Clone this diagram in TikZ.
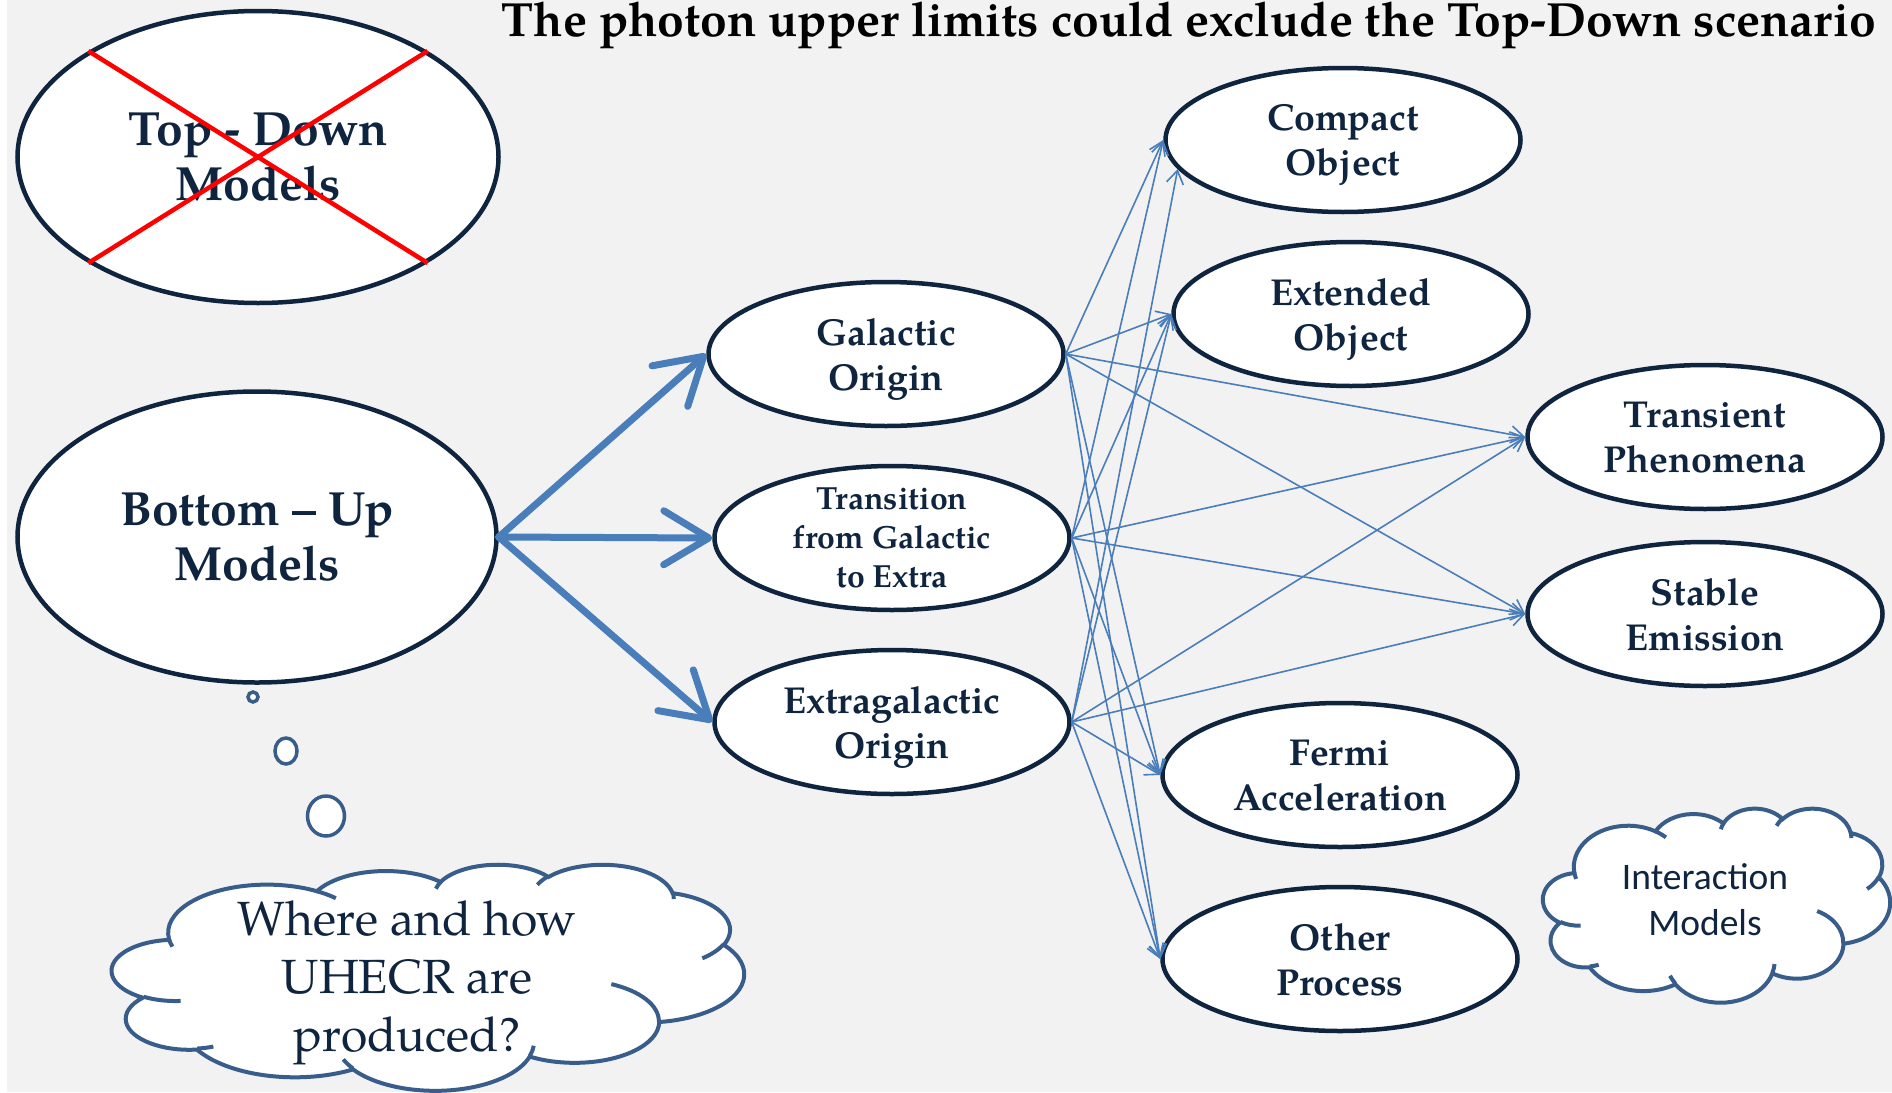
\documentclass[tikz,border=0pt]{standalone}
\usepackage{fontspec}
\setmainfont{texgyrepagella}[Extension=.otf, UprightFont=*-regular, BoldFont=*-bold, ItalicFont=*-italic, BoldItalicFont=*-bolditalic]
\newfontfamily\calibrifont{Carlito}
\usetikzlibrary{shapes.geometric,arrows.meta}

\definecolor{navy}{HTML}{0F243E}
\definecolor{linkblue}{HTML}{4A7EBB}
\definecolor{cloudblue}{HTML}{385D8A}
\definecolor{paper}{HTML}{F2F2F2}

% ---- cloud outline built from elliptic puffs (design grid 43.2 x 43.2) ----
\newcommand\cu{1}
\newcommand\cv{1}
\tikzset{
  % puff arc: x-radius, y-radius (grid units x1000), start angle, sweep
  % (y pointing down, angles measured as seen from the centre) -> TikZ arc
  oo/.code n args={4}{%
    \pgfmathsetmacro\ooA{atan2((#1)/1000*sin(#3),(#2)/1000*cos(#3))}%
    \pgfmathsetmacro\ooB{atan2((#1)/1000*sin((#3)+(#4)),(#2)/1000*cos((#3)+(#4)))}%
    \pgfmathsetmacro\ooD{\ooB-\ooA}%
    \pgfmathsetmacro\ooD{\ooD+360*round(((#4)-\ooD)/360)}%
    \pgfmathsetmacro\ooS{0-(\ooA)}%
    \pgfmathsetmacro\ooN{0-(\ooD)}%
    \pgfmathsetmacro\ooX{(#1)/1000*\cu}%
    \pgfmathsetmacro\ooY{(#2)/1000*\cv}%
    \edef\oonext{\noexpand\pgfkeysalso{start angle=\ooS, delta angle=\ooN,
      x radius=\ooX pt, y radius=\ooY pt}}%
    \oonext
  }
}
% #1 style, #2 #3 top-left corner, #4 width, #5 height
\newcommand\cloudshape[5]{%
  \pgfmathsetmacro\cu{#4/43.2}\pgfmathsetmacro\cv{#5/43.2}%
  \begin{scope}[shift={(#2,#3)}]
    \draw[#1, fill=white] ({3.9*\cu},{14.37*\cv})
      arc[oo={6753}{9190}{-190.487483}{123.780533}]
      arc[oo={5333}{7267}{-144.102383}{89.945233}]
      arc[oo={4365}{5945}{-145.807917}{99.723017}]
      arc[oo={4857}{6595}{-130.986067}{117.241733}]
      arc[oo={5333}{7273}{-78.708883}{109.026917}]
      arc[oo={6775}{9220}{-46.26725}{130.269}]
      arc[oo={5785}{7867}{0.625017}{114.033333}]
      arc[oo={6752}{9215}{22.4516}{115.17255}]
      arc[oo={7720}{10543}{66.242633}{75.711017}]
      arc[oo={4360}{5918}{-274.942083}{146.735567}]
      arc[oo={4345}{5945}{-246.8285}{152.51885}]
      -- cycle;
    \draw[#1]
      ({4.693*\cu},{26.177*\cv}) arc[oo={4345}{5945}{86.742}{26.4295}]
      ({6.928*\cu},{34.899*\cv}) arc[oo={4360}{5918}{73.610467}{11.447467}]
      ({16.478*\cu},{39.09*\cv}) arc[oo={6752}{9215}{137.62415}{14.0811}]
      ({28.827*\cu},{34.751*\cv}) arc[oo={6752}{9215}{6.453267}{15.99835}]
      ({34.129*\cu},{22.954*\cv}) arc[oo={5785}{7867}{-70.29235}{70.917367}]
      ({41.798*\cu},{15.354*\cv}) arc[oo={5333}{7273}{30.318033}{27.7515}]
      ({38.324*\cu},{5.426*\cv}) arc[oo={4857}{6595}{-13.744333}{14.8589}]
      ({29.078*\cu},{3.952*\cv}) arc[oo={4857}{6595}{-149.18145}{18.195367}]
      ({22.141*\cu},{4.72*\cv}) arc[oo={4365}{5945}{-163.494267}{17.68635}]
      ({14.0*\cu},{5.192*\cv}) arc[oo={6753}{9190}{-66.70695}{12.31935}]
      ({4.127*\cu},{15.789*\cv}) arc[oo={6753}{9190}{157.65435}{11.858167}];
  \end{scope}%
}

\begin{document}
\begin{tikzpicture}[x=1pt, y=-1pt,
  oval/.style={ellipse, draw=navy, line width=4.5pt, fill=white, text=navy,
    align=center, inner sep=0pt, text depth=0pt},
  bigoval/.style={oval, minimum width=481pt, minimum height=292pt,
    font=\fontsize{48}{55}\selectfont\bfseries},
  midoval/.style={oval, minimum width=355pt, minimum height=144pt,
    font=\fontsize{37.5}{45}\selectfont\bfseries},
  link/.style={draw=linkblue, line width=1.6pt,
    -{Straight Barb[length=13pt, width=17pt]}},
  bigarrow/.style={draw=linkblue, line width=7pt, line cap=round,
    -{Straight Barb[length=45pt, width=54pt, round]}},
  cloudline/.style={draw=cloudblue, line width=4pt},
  bubble/.style={ellipse, draw=cloudblue, fill=white, line width=3.5pt, inner sep=0pt},
  redx/.style={draw=red, line width=4.5pt},
  titletext/.style={anchor=base, text=black, inner sep=0pt,
    font=\fontsize{48}{55}\selectfont\bfseries},
]
\useasboundingbox (0,0) rectangle (1892,1092);
\fill[white] (0,0) rectangle (1892,1092);
\fill[paper] (7,0) rectangle (1892,1092);

% heading
\node[titletext] (ttl) at (1189,36) {The photon upper limits could exclude the Top-Down scenario};

% model families
\node[bigoval] (td) at (258,157) {Top - Down\\Models};
\draw[redx] (td.148) -- (td.-32) (td.212) -- (td.32);
\node[bigoval, minimum width=479pt, minimum height=291pt] (bu) at (257,537) {Bottom -- Up\\Models};

% origin of the sources
\node[midoval] (gal) at (886,354) {Galactic\\Origin};
\node[midoval, font=\fontsize{32}{39}\selectfont\bfseries] (tra) at (892,538) {Transition\\from Galactic\\to Extra};
\node[midoval] (exg) at (892,722) {Extragalactic\\Origin};

% source classes and mechanisms
\node[midoval] (cmp) at (1343,140) {Compact\\Object};
\node[midoval] (ext) at (1351,314) {Extended\\Object};
\node[midoval] (trn) at (1705,437) {Transient\\Phenomena};
\node[midoval] (stb) at (1705,614) {Stable\\Emission};
\node[midoval] (frm) at (1340,775) {Fermi\\Acceleration};
\node[midoval] (oth) at (1340,959) {Other\\Process};

% bottom-up branches
\draw[bigarrow] (bu.east) -- (gal.west);
\draw[bigarrow] (bu.east) -- (tra.west);
\draw[bigarrow] (bu.east) -- (exg.west);

% every origin linked to every class
\foreach \src in {gal,tra}{
  \foreach \dst in {cmp,ext,trn,stb,frm,oth}{
    \draw[link] (\src.east) -- (\dst.west);
  }
}
\draw[link] (exg.east) -- (cmp.190);
\foreach \dst in {ext,trn,stb,frm,oth}{
  \draw[link] (exg.east) -- (\dst.west);
}

% thought bubbles and clouds
\node[bubble, minimum width=10pt, minimum height=10pt] (b1) at (253,697) {};
\node[bubble, minimum width=22pt, minimum height=26pt] (b2) at (286,751) {};
\node[bubble, minimum width=37pt, minimum height=40pt] (b3) at (326,816) {};

\cloudshape{cloudline}{112}{864}{632}{226}
\node[text=navy, align=center, text depth=0pt, font=\fontsize{48}{58}\selectfont] (q) at (407,976)
  {Where and how\\UHECR are\\produced?};

\cloudshape{cloudline}{1543}{808}{347}{194}
\node[text=navy, align=center, font=\calibrifont\fontsize{37.5}{46}\selectfont] (im) at (1705,900)
  {Interaction\\Models};
\end{tikzpicture}
\end{document}
